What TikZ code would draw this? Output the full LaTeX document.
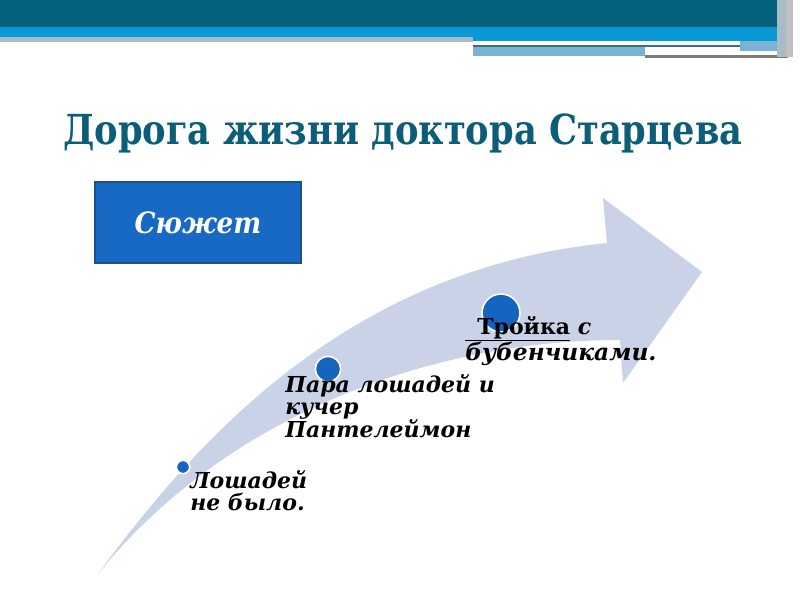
\documentclass[tikz,border=0pt]{standalone}
\usepackage{fontspec}
\setmainfont{DejaVu Serif}
\definecolor{hdark}{RGB}{4,96,124}
\definecolor{hblue}{RGB}{10,153,214}
\definecolor{hgrey}{RGB}{168,188,200}
\definecolor{hlight}{RGB}{122,178,212}
\definecolor{hline}{RGB}{60,110,130}
\definecolor{hbrown}{RGB}{130,120,115}
\definecolor{titlec}{RGB}{12,94,120}
\definecolor{boxblue}{RGB}{23,105,196}
\definecolor{boxedge}{RGB}{30,78,140}
\definecolor{arrowc}{RGB}{202,210,232}
\definecolor{dotc}{RGB}{21,101,192}
\begin{document}
\begin{tikzpicture}[x=0.75pt,y=-0.75pt,
  lbl/.style={anchor=base west, inner sep=0pt, font=\fontsize{16.5}{18}\selectfont\bfseries\itshape},
  dotn/.style={circle, fill=dotc, draw=white, line width=1.2pt, inner sep=0pt}]
\useasboundingbox (0,0) rectangle (800,600);
% header bands
\fill[hdark] (0,0) rectangle (777,27);
\fill[hblue] (0,27) rectangle (777,37);
\fill[hgrey] (0,37) rectangle (473,42);
\fill[hblue] (473,37) rectangle (777,41);
\fill[hline] (473,44.5) rectangle (740,47);
\fill[hlight] (473,47) rectangle (645,56);
\fill[hlight] (740,41) rectangle (777,51);
\fill[hbrown] (645,55) rectangle (788,57.5);
\fill[hgrey] (777,0) rectangle (786,57);
\fill[black!25] (786,0) rectangle (793,57);
% arrow
\fill[arrowc] (97,575) .. controls (190,450) and (340,270) .. (607,243) -- (603,198) -- (702,272) -- (623,383) -- (620,340) .. controls (440,340) and (230,410) .. (97,575) -- cycle;
% title
\node[anchor=base west, inner sep=0pt, text=titlec, font=\fontsize{31}{31}\selectfont\bfseries] (title) at (63,144) {\scalebox{0.853}[1]{Дорога жизни доктора Старцева}};
% box
\node[draw=boxedge, fill=boxblue, line width=1pt, minimum width=154.5pt, minimum height=60.75pt, text=white, font=\fontsize{22}{22}\selectfont\bfseries\itshape] (plot) at (198,222.5) {\scalebox{0.9}[1]{Сюжет}};
% dots
\node[dotn, minimum size=10pt] (d1) at (183,467) {};
\node[dotn, minimum size=19pt] (d2) at (328,369) {};
\node[dotn, minimum size=28.5pt] (d3) at (501,313) {};
% labels
\node[lbl] (a1) at (190,488) {Лошадей};
\node[lbl] (a2) at (190,510) {не было.};
\node[lbl] (b1) at (285,392) {Пара лошадей и};
\node[lbl] (b2) at (285,414) {кучер};
\node[lbl] (b3) at (285,437) {Пантелеймон};
\node[lbl, font=\fontsize{16.5}{18}\selectfont\bfseries] (c1) at (465,334) {\underline{\hspace*{9pt}Тройка}\ \textit{с}};
\node[lbl, font=\fontsize{17.5}{18}\selectfont\bfseries\itshape] (c2) at (465,360) {бубенчиками.};
\end{tikzpicture}
\end{document}
